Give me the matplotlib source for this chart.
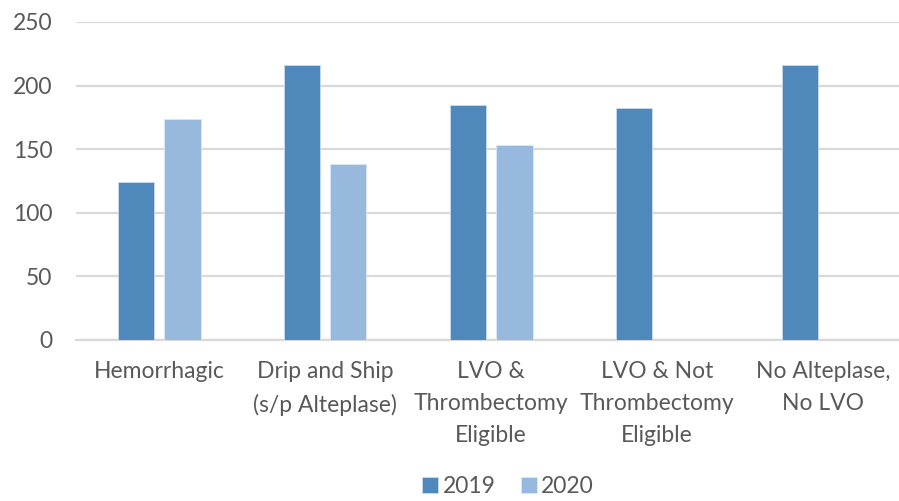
import matplotlib
matplotlib.use("Agg")
import matplotlib.pyplot as plt
import numpy as np

# data
categories = ["Hemorrhagic", "Drip and Ship\n(s/p Alteplase)", "LVO &\nThrombectomy\nEligible",
              "LVO & Not\nThrombectomy\nEligible", "No Alteplase,\nNo LVO"]
values_2019 = [124, 216, 185, 182, 216]
values_2020 = [174, 138, 153, 0, 0]
series_names = ["2019", "2020"]

color_2019 = "#4f89bc"
color_2020 = "#98b9de"
text_color = "#595959"

plt.rcParams['font.family'] = ['Lato', 'DejaVu Sans']

fig = plt.figure(figsize=(8.99, 5.01), dpi=100)
# plot area: left 76px, right ~906px, top 22px, bottom 340px
ax = fig.add_axes([76 / 899, 1 - 340 / 501, 830 / 899, 318 / 501])

x = np.arange(len(categories))
w = 0.217
gap = 0.066
ax.bar(x - (w + gap) / 2, values_2019, width=w, color=color_2019,
       edgecolor="#c9dcef", linewidth=0.6, label=series_names[0], zorder=3)
ax.bar(x + (w + gap) / 2, values_2020, width=w, color=color_2020,
       edgecolor="#dce8f5", linewidth=0.6, label=series_names[1], zorder=3)

ax.set_xlim(-0.5, len(categories) - 0.5)
ax.set_ylim(0, 250)
ax.set_yticks(range(0, 251, 50))
ax.yaxis.grid(True, color="#d9d9d9", linewidth=1.6, zorder=0)
ax.set_axisbelow(True)

for s in ["top", "right", "left"]:
    ax.spines[s].set_visible(False)
ax.spines["bottom"].set_color("#d9d9d9")
ax.spines["bottom"].set_linewidth(1.6)

ax.set_xticks(x)
ax.set_xticklabels(categories, linespacing=1.65)
ax.tick_params(axis="x", length=0, pad=15, labelsize=16.5, labelcolor=text_color)
ax.tick_params(axis="y", length=0, pad=17, labelsize=16.5, labelcolor=text_color)

fig.legend(loc="lower center", bbox_to_anchor=(0.565, -0.033), ncol=2, frameon=False,
           handlelength=0.7, handleheight=0.7, handletextpad=0.2, columnspacing=1.1,
           fontsize=16.5, labelcolor=text_color)

plt.savefig("out.png", dpi=100)
